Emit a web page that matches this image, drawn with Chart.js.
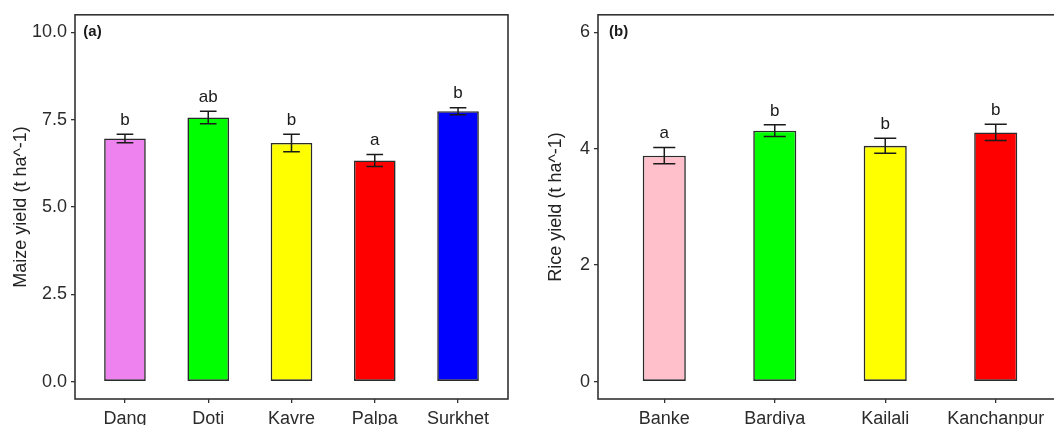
<!DOCTYPE html>
<html>
<head>
<meta charset="utf-8">
<script src="https://cdn.jsdelivr.net/npm/chart.js@4"></script>
<style>
html, body { margin: 0; padding: 0; background: #fff; overflow: hidden; width: 1054px; height: 425px; }
.panel { position: absolute; top: 0; height: 425px; }
#wrapA { left: 0; width: 520px; }
#wrapB { left: 535px; width: 530px; }
</style>
</head>
<body>
<div class="panel" id="wrapA"><canvas id="chartA" width="520" height="425"></canvas></div>
<div class="panel" id="wrapB"><canvas id="chartB" width="530" height="425"></canvas></div>
<script>
// (a) maize
const maizeDistricts = ["Dang", "Doti", "Kavre", "Palpa", "Surkhet"];
const maizeYield = [6.96, 7.56, 6.83, 6.33, 7.74];
const maizeSE = [0.12, 0.18, 0.25, 0.17, 0.10];
const maizeLetters = ["b", "ab", "b", "a", "b"];
const maizeColors = ["#EE82EE", "#00FF00", "#FFFF00", "#FF0000", "#0000FF"];
const maizeTicks = [0, 2.5, 5, 7.5, 10];

// (b) rice
const riceDistricts = ["Banke", "Bardiya", "Kailali", "Kanchanpur"];
const riceYield = [3.88, 4.31, 4.05, 4.28];
const riceSE = [0.14, 0.10, 0.13, 0.14];
const riceLetters = ["a", "b", "b", "b"];
const riceColors = ["#FFC0CB", "#00FF00", "#FFFF00", "#FF0000"];
const riceTicks = [0, 2, 4, 6];

const FONT = "'Liberation Sans', Arial, sans-serif";
const INK = "#1a1a1a";

// box, error bars, letters and panel tag
const extras = {
	id: "extras",
	afterDatasetsDraw(chart, args, opts) {
		const ctx = chart.ctx;
		const area = chart.chartArea;
		const xs = chart.scales.x;
		const ys = chart.scales.y;
		ctx.save();
		ctx.strokeStyle = INK;
		ctx.lineWidth = 1.5;
		ctx.fillStyle = INK;
		ctx.font = "17px " + FONT;
		ctx.textAlign = "center";
		ctx.textBaseline = "middle";
		opts.means.forEach((m, i) => {
			const x = xs.getPixelForValue(i + 1);
			const x0 = xs.getPixelForValue(i + 0.9);
			const x1 = xs.getPixelForValue(i + 1.1);
			const hi = ys.getPixelForValue(m + opts.se[i]);
			const lo = ys.getPixelForValue(m - opts.se[i]);
			ctx.beginPath();
			ctx.moveTo(x, hi); ctx.lineTo(x, lo);
			ctx.moveTo(x0, hi); ctx.lineTo(x1, hi);
			ctx.moveTo(x0, lo); ctx.lineTo(x1, lo);
			ctx.stroke();
			ctx.fillText(opts.letters[i], x, hi - 14);
		});

		ctx.strokeStyle = "#333";
		ctx.lineWidth = 1.6;
		ctx.strokeRect(area.left, area.top, area.right - area.left, area.bottom - area.top);

		ctx.font = "bold 15px " + FONT;
		ctx.textAlign = "left";
		ctx.fillText(opts.tag, xs.getPixelForValue(0.5), ys.getPixelForValue(opts.tagY));
		ctx.restore();
	}
};

const makeChart = (id, cats, means, se, letters, colors, yTicks, yPad, decimals, barPct, title, tag, padRight, yWidth) => {
	const yMax = yTicks[yTicks.length - 1];
	return new Chart(document.getElementById(id), {
		type: "bar",
		data: {
			datasets: [{
				data: means.map((v, i) => ({ x: i + 1, y: v })),
				backgroundColor: colors,
				borderColor: "#2b2b2b",
				borderWidth: 1.6,
				borderSkipped: false,
				categoryPercentage: 1,
				barPercentage: barPct,
			}],
		},
		options: {
			responsive: false,
			animation: false,
			layout: { padding: { top: 13, right: padRight, left: 0, bottom: 0 } },
			plugins: {
				legend: { display: false },
				tooltip: { enabled: false },
				extras: { means: means, se: se, letters: letters, tag: tag, tagY: yMax },
			},
			scales: {
				x: {
					type: "linear",
					offset: false,
					min: 0.4,
					max: cats.length + 0.6,
					afterBuildTicks: (s) => { s.ticks = cats.map((c, i) => ({ value: i + 1 })); },
					afterFit: (s) => { s.height = 26; },
					ticks: {
						autoSkip: false,
						maxRotation: 0,
						padding: 5,
						color: "#2b2b2b",
						font: { family: FONT, size: 18 },
						callback: (v) => cats[Math.round(v) - 1],
					},
					grid: { display: true, offset: false, drawOnChartArea: false, drawTicks: true, tickLength: 4, color: "#333", lineWidth: 1.3 },
					border: { display: false },
				},
				y: {
					min: -yPad,
					max: yMax + yPad,
					afterBuildTicks: (s) => { s.ticks = yTicks.map((t) => ({ value: t })); },
					afterFit: (s) => { s.width = yWidth; },
					ticks: {
						padding: 4,
						color: "#2b2b2b",
						font: { family: FONT, size: 18 },
						callback: (v) => v.toFixed(decimals),
					},
					grid: { display: true, drawOnChartArea: false, drawTicks: true, tickLength: 4, color: "#333", lineWidth: 1.3 },
					border: { display: false },
					title: {
						display: true,
						text: title,
						color: "#222",
						font: { family: FONT, size: 18 },
						padding: { top: 10, bottom: 0 },
					},
				},
			},
		},
		plugins: [extras],
	});
};

makeChart("chartA", maizeDistricts, maizeYield, maizeSE, maizeLetters, maizeColors, maizeTicks, 0.5, 1, 0.5,
	"Maize yield (t ha^-1)", "(a)", 12, 75);
makeChart("chartB", riceDistricts, riceYield, riceSE, riceLetters, riceColors, riceTicks, 0.3, 0, 0.39,
	"Rice yield (t ha^-1)", "(b)", 3, 63);
</script>
</body>
</html>
